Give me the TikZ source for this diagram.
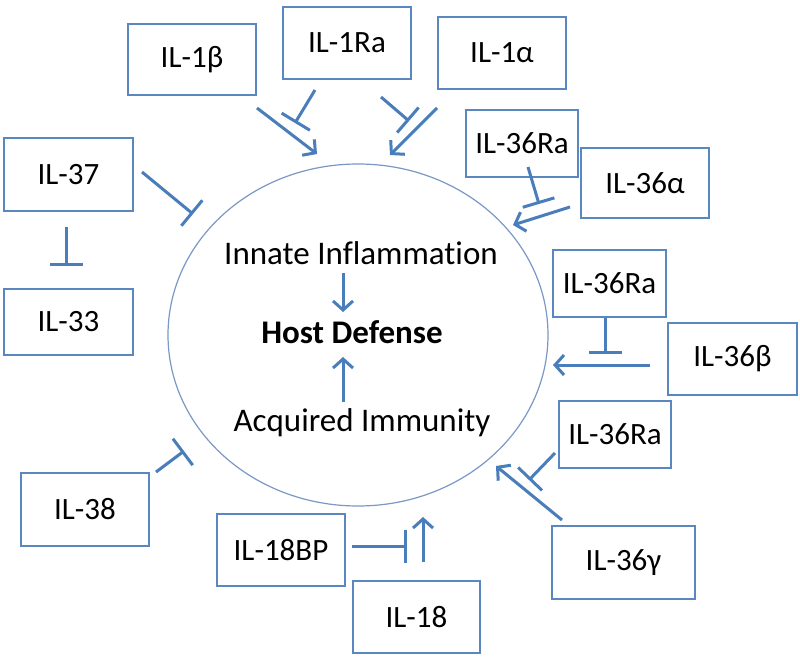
\documentclass[tikz,border=0pt]{standalone}
\usepackage{fontspec}
\setmainfont{Carlito}[Ligatures=NoCommon]
\usetikzlibrary{arrows.meta,shapes.geometric}
\definecolor{ln}{HTML}{4A7EBB}
\definecolor{bx}{HTML}{5B87C0}
\definecolor{cc}{HTML}{7A98C6}
\begin{document}
\begin{tikzpicture}[x=1pt,y=-1pt,
  box/.style={draw=bx,line width=1.5pt,rectangle,inner sep=0pt,font=\fontsize{31}{36}\selectfont},
  act/.style={draw=ln,line width=3pt,-{Straight Barb[length=9pt,width=20pt]}},
  inh/.style={draw=ln,line width=3pt,-{Bar[width=33pt]}},
  lbl/.style={inner sep=0pt,font=\fontsize{33}{38}\selectfont}]
\useasboundingbox (0,0) rectangle (800,658);
\fill[white] (0,0) rectangle (800,658);

% central ellipse
\node[draw=cc,line width=1.2pt,ellipse,inner sep=0pt,minimum width=380pt,minimum height=342pt] (core) at (358,335) {};

% central texts
\node[lbl] (inn) at (361,253) {Innate Inflammation};
\node[lbl,font=\fontsize{33}{38}\selectfont\bfseries] (host) at (352,332) {Host Defense};
\node[lbl] (acq) at (362,423) {Acquired Immunity};

% boxes
\node[box,minimum width=128pt,minimum height=71pt] (b1b) at (192,59.5) {IL-1β};
\node[box,minimum width=128pt,minimum height=72pt] (b1ra) at (347,43) {IL-1Ra};
\node[box,minimum width=128pt,minimum height=72pt] (b1a) at (502,53) {IL-1α};
\node[box,minimum width=112pt,minimum height=67pt] (b36raA) at (522,143.5) {IL-36Ra};
\node[box,minimum width=128pt,minimum height=70pt] (b36a) at (645,183) {IL-36α};
\node[box,minimum width=129pt,minimum height=73pt] (b37) at (68.5,174.5) {IL-37};
\node[box,minimum width=129pt,minimum height=66pt] (b33) at (68.5,322) {IL-33};
\node[box,minimum width=113pt,minimum height=67pt] (b36raB) at (609.5,283.5) {IL-36Ra};
\node[box,minimum width=129pt,minimum height=72pt] (b36b) at (732.5,359) {IL-36β};
\node[box,minimum width=112pt,minimum height=67pt] (b36raC) at (615,434.5) {IL-36Ra};
\node[box,minimum width=143pt,minimum height=73pt] (b36g) at (623.5,562.5) {IL-36γ};
\node[box,minimum width=128pt,minimum height=73pt] (b38) at (85,509.5) {IL-38};
\node[box,minimum width=128pt,minimum height=72pt] (b18bp) at (281,550) {IL-18BP};
\node[box,minimum width=127pt,minimum height=72pt] (b18) at (416.5,617) {IL-18};

% connector end points
\coordinate (p1s) at (257,108);  \coordinate (p1e) at (317,154);
\coordinate (p2s) at (315,90);   \coordinate (p2e) at (295,123);
\coordinate (p3s) at (381,97);   \coordinate (p3e) at (409,121);
\coordinate (p4s) at (437,108);  \coordinate (p4e) at (390,155);
\coordinate (p5s) at (528,167);  \coordinate (p5e) at (539,204);
\coordinate (p6s) at (570,207);  \coordinate (p6e) at (513,225);
\coordinate (p7s) at (142,172);  \coordinate (p7e) at (193,214);
\coordinate (p8s) at (66,227);   \coordinate (p8e) at (66,266);
\coordinate (p9s) at (605,318);  \coordinate (p9e) at (605,354);
\coordinate (p10s) at (650,365); \coordinate (p10e) at (553,365);
\coordinate (p11s) at (555,453); \coordinate (p11e) at (529,480);
\coordinate (p12s) at (562,520); \coordinate (p12e) at (496,466);
\coordinate (p13s) at (156,472); \coordinate (p13e) at (184,451);
\coordinate (p14s) at (352,546); \coordinate (p14e) at (407,546);
\coordinate (p15s) at (423,562); \coordinate (p15e) at (423,517);
\coordinate (c1s) at (343,273);  \coordinate (c1e) at (343,312);
\coordinate (c2s) at (343,402);  \coordinate (c2e) at (343,357);

% connectors
\draw[act] (p1s) -- (p1e);
\draw[inh] (p2s) -- (p2e);
\draw[inh] (p3s) -- (p3e);
\draw[act] (p4s) -- (p4e);
\draw[inh] (p5s) -- (p5e);
\draw[act] (p6s) -- (p6e);
\draw[inh] (p7s) -- (p7e);
\draw[inh] (p8s) -- (p8e);
\draw[inh] (p9s) -- (p9e);
\draw[act] (p10s) -- (p10e);
\draw[inh] (p11s) -- (p11e);
\draw[act] (p12s) -- (p12e);
\draw[inh] (p13s) -- (p13e);
\draw[inh] (p14s) -- (p14e);
\draw[act] (p15s) -- (p15e);
\draw[act] (c1s) -- (c1e);
\draw[act] (c2s) -- (c2e);
\end{tikzpicture}
\end{document}
